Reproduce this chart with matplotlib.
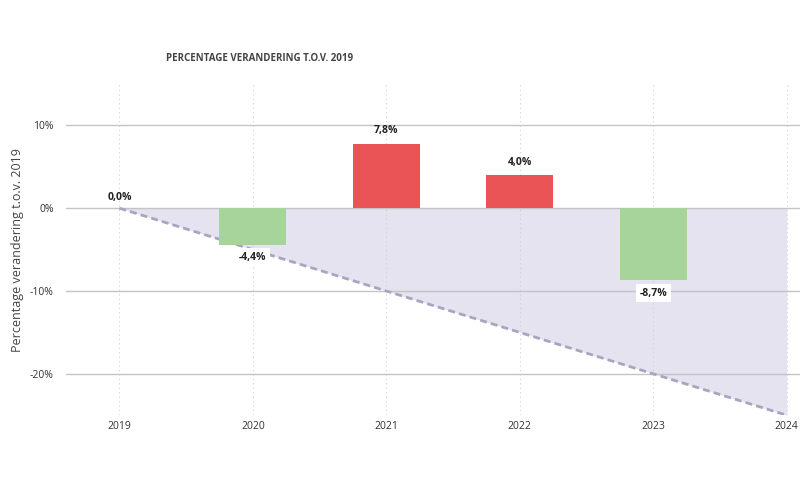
import matplotlib
matplotlib.use('Agg')
import matplotlib.pyplot as plt

# data
years = [2019, 2020, 2021, 2022, 2023, 2024]
bar_years = [2020, 2021, 2022, 2023]
changes = [-4.4, 7.8, 4.0, -8.7]
target_years = [2019, 2024]
target = [0.0, -25.0]
start_label = '0,0%'
ytick_vals = [-20, -10, 0, 10]
ytick_labels = ['-20%', '-10%', '0%', '10%']

RED = '#eb5456'
GREEN = '#a6d49a'
FILL = '#e4e3ef'
DASH = '#a8a5c1'

plt.rcParams['font.family'] = ['Open Sans', 'DejaVu Sans']

fig = plt.figure(figsize=(8, 4.8), dpi=100)
ax = fig.add_axes([0.0825, 0.135, 0.9175, 0.69])

ax.set_xlim(2018.6, 2024.1)
ax.set_ylim(-25, 15)

# target area and dashed line
ax.fill_between(target_years, target, 0, color=FILL, zorder=1, lw=0)
ax.plot(target_years, target, color=DASH, lw=2, ls=(0, (2.5, 1.5)), zorder=3)

# grid
for yv in ytick_vals:
    ax.axhline(yv, color='#c4c4c4', lw=1, zorder=2)
for xv in years:
    ax.axvline(xv, color='#d0d0d0', lw=0.8, ls=(0, (1, 3)), zorder=1.5)

colors = [RED if c > 0 else GREEN for c in changes]
ax.bar(bar_years, changes, width=0.5, color=colors, zorder=4)

def fmt(v):
    return ('%.1f%%' % v).replace('.', ',')

ax.text(2019, 0.6, start_label, ha='center', va='bottom', fontsize=7.5,
        fontweight='bold', color='#222222', zorder=6)
for x, v in zip(bar_years, changes):
    if v >= 0:
        ax.text(x, v + 0.9, fmt(v), ha='center', va='bottom', fontsize=7.5,
                fontweight='bold', color='#222222', zorder=6)
    else:
        ax.text(x, v - 0.9, fmt(v), ha='center', va='top', fontsize=7.5,
                fontweight='bold', color='#222222', zorder=6,
                bbox=dict(boxstyle='square,pad=0.35', fc='white', ec='none'))

ax.set_xticks(years)
ax.set_xticklabels([str(y) for y in years], fontsize=7.5, color='#333333')
ax.set_yticks(ytick_vals)
ax.set_yticklabels(ytick_labels, fontsize=7.5, color='#333333')
ax.tick_params(length=0)
ax.tick_params(axis='x', pad=4)
ax.tick_params(axis='y', pad=9)
for s in ax.spines.values():
    s.set_visible(False)

ax.set_ylabel('Percentage verandering t.o.v. 2019', fontsize=9, color='#444444',
              labelpad=4)

fig.text(0.207, 0.878, 'PERCENTAGE VERANDERING T.O.V. 2019', fontsize=7,
         fontweight='bold', color='#444444', ha='left', va='center')

fig.savefig('out.png', dpi=100)
